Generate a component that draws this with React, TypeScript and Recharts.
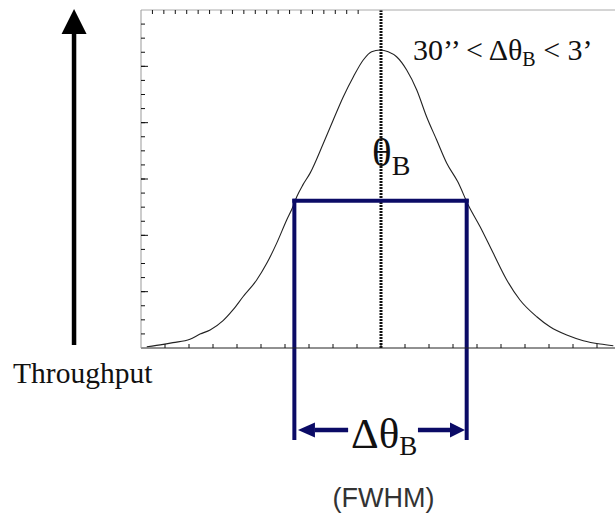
import { ComposedChart, Line, XAxis, YAxis, ReferenceLine, ReferenceDot } from 'recharts';

// curve (x in tick steps, y in tick steps)
const angle = [0.24, 0.93, 1.33, 2.04, 2.46, 2.88, 3.42, 3.83, 4.25, 4.82, 5.24, 5.65, 6.07, 6.33, 6.49, 6.75, 7.04, 7.6, 8.01, 8.43, 8.85, 9.26, 9.61, 9.96, 10.3, 10.65, 11.07, 11.49, 11.9, 12.32, 12.74, 13.2, 13.65, 14.13, 14.68, 15.24, 15.79, 16.49, 17.04, 17.74, 18.43, 19.13, 19.68];
const throughput = [0.09, 0.26, 0.38, 0.62, 0.99, 1.28, 1.94, 2.7, 3.64, 4.83, 6.01, 7.43, 9.09, 10.03, 10.74, 11.6, 12.4, 14.54, 16.19, 17.84, 19.26, 20.45, 21.04, 21.16, 21.04, 20.68, 19.74, 18.32, 16.42, 14.77, 13.12, 11.8, 10.1, 8.61, 6.72, 4.83, 3.41, 2.22, 1.51, 0.92, 0.52, 0.28, 0.16];

const xTicks = [1, 2, 3, 4, 5, 6, 7, 8, 9, 10, 11, 12, 13, 14, 15, 16, 17, 18, 19];
const yTicks = [1, 2, 3, 4, 5, 6, 7, 8, 9, 10, 11, 12, 13, 14, 15, 16, 17, 18, 19, 20, 21, 22, 23];
const yMajorTicks = [4, 8, 12, 16, 20];

const peakAngle = 10;
const fwhmLeft = 6.39;
const fwhmRight = 13.57;
const halfMax = 10.46;

const data = angle.map((a, i) => ({ a, t: throughput[i] }));

const NAVY = '#0b0b66';
const SERIF = '"Liberation Serif", "Times New Roman", serif';
const noLabel = () => '';

const arrow = (headLen: number, headHalf: number, color: string, width: number) => (p: any) => {
  const { x1, y1, x2, y2 } = p;
  const ang = Math.atan2(y2 - y1, x2 - x1);
  const bx = x2 - headLen * Math.cos(ang);
  const by = y2 - headLen * Math.sin(ang);
  const nx = -Math.sin(ang) * headHalf;
  const ny = Math.cos(ang) * headHalf;
  return (
    <g>
      <line x1={x1} y1={y1} x2={bx} y2={by} stroke={color} strokeWidth={width} />
      <polygon points={`${x2},${y2} ${bx + nx},${by + ny} ${bx - nx},${by - ny}`} fill={color} />
    </g>
  );
};

export default function App() {
  return (
    <div style={{ position: 'absolute', left: 0, top: 0, width: 615, height: 514, overflow: 'hidden', background: '#fff' }}>
      <ComposedChart width={625} height={514} data={data} margin={{ top: 10, left: 141, right: 4, bottom: 166 }}>
        <XAxis xAxisId="b" dataKey="a" type="number" domain={[0, 20]} ticks={xTicks} mirror tickSize={4}
          stroke="#111" axisLine={{ stroke: '#222' }} tickFormatter={noLabel} allowDataOverflow />
        <XAxis xAxisId="t" orientation="top" type="number" domain={[0, 20]} ticks={xTicks} mirror tickSize={4}
          stroke="#111" axisLine={{ stroke: '#aaa' }} tickFormatter={noLabel} allowDataOverflow />
        <YAxis yAxisId="y" type="number" domain={[0, 24]} ticks={yTicks} mirror width={0.01} tickSize={4}
          stroke="#111" axisLine={{ stroke: '#999' }} tickFormatter={noLabel} allowDataOverflow />
        <YAxis yAxisId="y2" type="number" domain={[0, 24]} ticks={yMajorTicks} mirror width={0.01} tickSize={7}
          stroke="#111" axisLine={false} tickFormatter={noLabel} allowDataOverflow />

        <Line xAxisId="b" yAxisId="y" dataKey="t" type="monotone" stroke="#222" strokeWidth={1.1}
          dot={false} isAnimationActive={false} />

        {/* dotted centre line */}
        <ReferenceLine xAxisId="b" yAxisId="y" ifOverflow="visible" stroke="#111" strokeWidth={3} strokeDasharray="2 1"
          segment={[{ x: peakAngle, y: 0 }, { x: peakAngle, y: 24 }]} />

        {/* FWHM bracket */}
        <ReferenceLine xAxisId="b" yAxisId="y" ifOverflow="visible" stroke={NAVY} strokeWidth={4} strokeLinecap="square"
          segment={[{ x: fwhmLeft, y: halfMax }, { x: fwhmRight, y: halfMax }]} />
        <ReferenceLine xAxisId="b" yAxisId="y" ifOverflow="visible" stroke={NAVY} strokeWidth={4} strokeLinecap="square"
          segment={[{ x: fwhmLeft, y: halfMax }, { x: fwhmLeft, y: -6.39 }]} />
        <ReferenceLine xAxisId="b" yAxisId="y" ifOverflow="visible" stroke={NAVY} strokeWidth={4} strokeLinecap="square"
          segment={[{ x: fwhmRight, y: halfMax }, { x: fwhmRight, y: -6.39 }]} />
        <ReferenceLine xAxisId="b" yAxisId="y" ifOverflow="visible" shape={arrow(17, 7.5, NAVY, 4.5)}
          segment={[{ x: 8.63, y: -5.82 }, { x: 6.54, y: -5.82 }]} />
        <ReferenceLine xAxisId="b" yAxisId="y" ifOverflow="visible" shape={arrow(15, 7.5, NAVY, 4.5)}
          segment={[{ x: 11.54, y: -5.82 }, { x: 13.5, y: -5.82 }]} />

        {/* throughput arrow */}
        <ReferenceLine xAxisId="b" yAxisId="y" ifOverflow="visible" shape={arrow(25, 12.5, '#000', 4.5)}
          segment={[{ x: -2.79, y: 0.21 }, { x: -2.79, y: 24.07 }]} />

        <ReferenceDot xAxisId="b" yAxisId="y" x={11.33} y={20.45} ifOverflow="visible"
          shape={(p: any) => (
            <text x={p.cx} y={p.cy} fontFamily={SERIF} fontSize={30} fill="#111">
              {'30’’ < Δθ'}<tspan fontSize={20} dy={6}>B</tspan><tspan dy={-6}>{' < 3’'}</tspan>
            </text>
          )} />
        <ReferenceDot xAxisId="b" yAxisId="y" x={9.625} y={12.92} ifOverflow="visible"
          shape={(p: any) => (
            <text x={p.cx} y={p.cy} fontFamily={SERIF} fontSize={41} fill="#111">
              θ<tspan fontSize={28} dy={9}>B</tspan>
            </text>
          )} />
        <ReferenceDot xAxisId="b" yAxisId="y" x={8.75} y={-7.1} ifOverflow="visible"
          shape={(p: any) => (
            <text x={p.cx} y={p.cy} fontFamily={SERIF} fontSize={43} fill="#111">
              Δθ<tspan fontSize={27} dy={7}>B</tspan>
            </text>
          )} />
        <ReferenceDot xAxisId="b" yAxisId="y" x={-5.33} y={-2.49} ifOverflow="visible"
          shape={(p: any) => (
            <text x={p.cx} y={p.cy} fontFamily={SERIF} fontSize={29.5} fill="#111">Throughput</text>
          )} />
        <ReferenceDot xAxisId="b" yAxisId="y" x={10.1} y={-11.29} ifOverflow="visible"
          shape={(p: any) => (
            <text x={p.cx} y={p.cy} fontFamily='"Liberation Sans", Arial, sans-serif' fontSize={27} fill="#333" textAnchor="middle">(FWHM)</text>
          )} />
      </ComposedChart>
    </div>
  );
}
